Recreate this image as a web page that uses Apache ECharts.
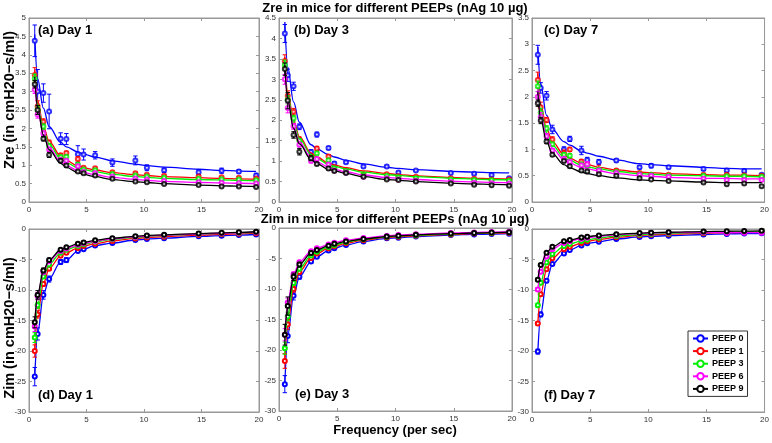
<!DOCTYPE html>
<html><head><meta charset="utf-8">
<script src="https://cdn.jsdelivr.net/npm/echarts@6/dist/echarts.min.js"></script>
<style>html,body{margin:0;padding:0;background:#fff}#c{width:772px;height:443px}</style>
</head><body><div id="c"></div>
<script>
const freq = [0.5, 0.75, 1.25, 1.75, 2.75, 3.25, 4.25, 4.75, 5.75, 7.25, 9.25, 10.25, 11.75, 14.75, 16.75, 18.25, 19.75];
const seriesNames = ['PEEP 0', 'PEEP 1', 'PEEP 3', 'PEEP 6', 'PEEP 9'];
const colors = ['#0000ff', '#ff0000', '#00ee00', '#ff00ff', '#000000'];
const xTicks = [0, 5, 10, 15, 20];

// ---- Zre, Day 1 ----
const zreDay1 = [
  [4.38, 3.00, 2.96, 2.46, 1.72, 1.71, 1.30, 1.29, 1.27, 1.07, 1.13, 0.93, 0.86, 0.81, 0.85, 0.83, 0.72],
  [3.45, 2.60, 2.18, 1.62, 1.27, 1.33, 1.17, 0.93, 0.92, 0.81, 0.78, 0.74, 0.71, 0.69, 0.67, 0.66, 0.64],
  [3.35, 2.50, 2.05, 1.52, 1.22, 1.23, 1.02, 0.88, 0.86, 0.76, 0.72, 0.69, 0.66, 0.63, 0.62, 0.61, 0.59],
  [3.05, 2.38, 1.87, 1.43, 1.15, 1.12, 0.97, 0.82, 0.79, 0.69, 0.64, 0.61, 0.57, 0.54, 0.52, 0.51, 0.50],
  [3.20, 2.50, 1.72, 1.28, 1.12, 0.99, 0.83, 0.78, 0.72, 0.63, 0.56, 0.54, 0.49, 0.46, 0.42, 0.42, 0.41]
];
const zreDay1Err = [
  [0.43, 0.60, 0.25, 0.47, 0.16, 0.15, 0.23, 0.15, 0.10, 0.10, 0.12, 0.08, 0.06, 0.06, 0.07, 0.05, 0.06],
  [0.20, 0.15, 0.08, 0.06, 0.05, 0.05, 0.06, 0.04, 0.03, 0.03, 0.03, 0.03, 0.03, 0.02, 0.02, 0.02, 0.02],
  [0.12, 0.10, 0.07, 0.05, 0.05, 0.04, 0.04, 0.03, 0.03, 0.03, 0.03, 0.02, 0.02, 0.02, 0.02, 0.02, 0.02],
  [0.10, 0.10, 0.06, 0.05, 0.04, 0.04, 0.04, 0.03, 0.03, 0.02, 0.02, 0.02, 0.02, 0.02, 0.02, 0.02, 0.02],
  [0.10, 0.12, 0.06, 0.07, 0.05, 0.04, 0.03, 0.03, 0.03, 0.02, 0.02, 0.02, 0.02, 0.02, 0.02, 0.02, 0.02]
];
const zreDay1Fit = [
  [4.55, 3.35, 2.55, 2.05, 1.62, 1.50, 1.36, 1.30, 1.22, 1.12, 1.03, 0.99, 0.95, 0.89, 0.86, 0.84, 0.83],
  [3.60, 2.75, 2.05, 1.65, 1.25, 1.13, 0.98, 0.93, 0.87, 0.80, 0.74, 0.72, 0.69, 0.66, 0.64, 0.63, 0.62],
  [3.50, 2.65, 1.95, 1.57, 1.18, 1.07, 0.93, 0.88, 0.82, 0.75, 0.69, 0.67, 0.64, 0.61, 0.60, 0.59, 0.58],
  [3.30, 2.50, 1.85, 1.48, 1.10, 0.99, 0.85, 0.80, 0.74, 0.67, 0.61, 0.59, 0.56, 0.53, 0.52, 0.51, 0.50],
  [3.40, 2.55, 1.82, 1.42, 1.05, 0.94, 0.80, 0.75, 0.69, 0.61, 0.55, 0.53, 0.50, 0.46, 0.44, 0.43, 0.42]
];

// ---- Zre, Day 3 ----
const zreDay3 = [
  [4.12, 3.10, 2.83, 1.84, 1.22, 1.65, 1.32, 0.94, 0.97, 0.87, 0.87, 0.72, 0.77, 0.71, 0.69, 0.66, 0.58],
  [3.45, 2.60, 2.21, 1.53, 1.10, 1.31, 1.11, 0.85, 0.78, 0.68, 0.68, 0.63, 0.62, 0.58, 0.57, 0.55, 0.55],
  [3.35, 2.50, 2.05, 1.50, 1.05, 1.19, 1.02, 0.82, 0.75, 0.66, 0.64, 0.60, 0.58, 0.55, 0.54, 0.53, 0.52],
  [3.00, 2.30, 1.85, 1.40, 1.00, 1.05, 0.92, 0.77, 0.72, 0.62, 0.58, 0.55, 0.52, 0.49, 0.47, 0.46, 0.45],
  [3.25, 2.48, 1.64, 1.23, 1.07, 0.93, 0.82, 0.76, 0.71, 0.62, 0.55, 0.54, 0.50, 0.45, 0.42, 0.41, 0.40]
];
const zreDay3Err = [
  [0.22, 0.15, 0.10, 0.07, 0.06, 0.06, 0.04, 0.04, 0.03, 0.03, 0.03, 0.03, 0.02, 0.02, 0.02, 0.03, 0.02],
  [0.15, 0.12, 0.08, 0.06, 0.05, 0.05, 0.04, 0.03, 0.03, 0.02, 0.02, 0.02, 0.02, 0.02, 0.02, 0.02, 0.02],
  [0.12, 0.10, 0.07, 0.05, 0.04, 0.04, 0.03, 0.03, 0.02, 0.02, 0.02, 0.02, 0.02, 0.02, 0.02, 0.02, 0.02],
  [0.12, 0.12, 0.07, 0.05, 0.04, 0.04, 0.03, 0.03, 0.02, 0.02, 0.02, 0.02, 0.02, 0.02, 0.02, 0.02, 0.02],
  [0.15, 0.20, 0.08, 0.08, 0.06, 0.04, 0.04, 0.03, 0.03, 0.02, 0.02, 0.02, 0.02, 0.02, 0.02, 0.02, 0.02]
];
const zreDay3Fit = [
  [4.40, 3.30, 2.45, 1.95, 1.40, 1.30, 1.16, 1.10, 1.02, 0.93, 0.85, 0.82, 0.79, 0.75, 0.73, 0.72, 0.71],
  [3.55, 2.70, 2.00, 1.60, 1.20, 1.10, 0.95, 0.90, 0.84, 0.76, 0.70, 0.67, 0.64, 0.60, 0.58, 0.57, 0.56],
  [3.45, 2.60, 1.95, 1.55, 1.16, 1.06, 0.92, 0.87, 0.81, 0.73, 0.67, 0.65, 0.62, 0.58, 0.56, 0.55, 0.54],
  [3.30, 2.50, 1.85, 1.47, 1.08, 0.98, 0.85, 0.80, 0.74, 0.66, 0.60, 0.58, 0.55, 0.51, 0.49, 0.48, 0.47],
  [3.35, 2.50, 1.80, 1.42, 1.04, 0.94, 0.80, 0.76, 0.70, 0.62, 0.55, 0.53, 0.50, 0.46, 0.44, 0.43, 0.42]
];

// ---- Zre, Day 7 ----
const zreDay7 = [
  [2.80, 2.17, 2.02, 1.38, 1.00, 1.20, 0.98, 0.80, 0.76, 0.79, 0.66, 0.69, 0.66, 0.63, 0.60, 0.59, 0.52],
  [2.32, 1.80, 1.56, 1.19, 0.93, 1.00, 0.77, 0.72, 0.60, 0.60, 0.55, 0.52, 0.52, 0.52, 0.52, 0.51, 0.50],
  [2.20, 1.70, 1.40, 1.10, 0.90, 0.88, 0.72, 0.68, 0.62, 0.57, 0.53, 0.52, 0.50, 0.50, 0.49, 0.49, 0.48],
  [2.00, 1.62, 1.25, 0.98, 0.82, 0.76, 0.70, 0.72, 0.60, 0.55, 0.52, 0.50, 0.48, 0.44, 0.42, 0.42, 0.42],
  [1.88, 1.55, 1.15, 0.90, 0.78, 0.68, 0.60, 0.58, 0.53, 0.50, 0.45, 0.43, 0.40, 0.37, 0.34, 0.35, 0.30]
];
const zreDay7Err = [
  [0.18, 0.10, 0.08, 0.08, 0.05, 0.05, 0.08, 0.05, 0.05, 0.03, 0.03, 0.04, 0.02, 0.03, 0.03, 0.03, 0.02],
  [0.15, 0.10, 0.05, 0.05, 0.06, 0.04, 0.04, 0.03, 0.10, 0.03, 0.02, 0.02, 0.02, 0.02, 0.02, 0.02, 0.02],
  [0.10, 0.08, 0.05, 0.04, 0.04, 0.04, 0.03, 0.03, 0.03, 0.02, 0.02, 0.02, 0.02, 0.02, 0.02, 0.02, 0.02],
  [0.10, 0.08, 0.05, 0.04, 0.04, 0.04, 0.03, 0.05, 0.03, 0.02, 0.02, 0.02, 0.02, 0.02, 0.02, 0.02, 0.02],
  [0.06, 0.06, 0.04, 0.03, 0.03, 0.03, 0.02, 0.02, 0.02, 0.02, 0.02, 0.02, 0.02, 0.02, 0.02, 0.02, 0.02]
];
const zreDay7Fit = [
  [2.95, 2.25, 1.65, 1.38, 1.15, 1.08, 0.97, 0.93, 0.87, 0.80, 0.73, 0.71, 0.69, 0.66, 0.64, 0.63, 0.63],
  [2.45, 1.85, 1.40, 1.15, 0.90, 0.83, 0.74, 0.71, 0.66, 0.61, 0.57, 0.56, 0.54, 0.52, 0.51, 0.51, 0.50],
  [2.30, 1.75, 1.32, 1.08, 0.85, 0.79, 0.70, 0.67, 0.63, 0.58, 0.54, 0.53, 0.51, 0.50, 0.49, 0.49, 0.48],
  [2.15, 1.65, 1.25, 1.02, 0.80, 0.74, 0.66, 0.63, 0.59, 0.54, 0.50, 0.49, 0.47, 0.45, 0.45, 0.44, 0.44],
  [2.10, 1.58, 1.15, 0.92, 0.71, 0.65, 0.57, 0.54, 0.50, 0.46, 0.42, 0.41, 0.40, 0.38, 0.37, 0.37, 0.37]
];

// ---- Zim, Day 1 ----
const zimDay1 = [
  [-24.2, -17.2, -10.8, -8.2, -5.4, -5.1, -3.6, -3.3, -2.7, -2.3, -1.8, -1.65, -1.5, -1.2, -1.1, -1.0, -0.9],
  [-20.0, -14.0, -9.0, -6.5, -4.4, -3.9, -3.1, -2.8, -2.4, -1.95, -1.55, -1.4, -1.25, -1.0, -0.88, -0.78, -0.68],
  [-17.8, -12.5, -7.8, -5.8, -3.9, -3.4, -2.8, -2.5, -2.1, -1.7, -1.35, -1.2, -1.05, -0.85, -0.72, -0.64, -0.55],
  [-16.0, -11.0, -7.0, -5.3, -3.6, -3.2, -2.6, -2.35, -2.0, -1.6, -1.3, -1.15, -1.02, -0.82, -0.7, -0.62, -0.52],
  [-15.3, -10.8, -6.8, -5.1, -3.4, -3.0, -2.4, -2.2, -1.85, -1.5, -1.2, -1.05, -0.95, -0.75, -0.62, -0.55, -0.45]
];
const zimDay1Err = [
  [1.5, 1.0, 0.7, 0.5, 0.4, 0.4, 0.25, 0.2, 0.15, 0.12, 0.1, 0.08, 0.07, 0.05, 0.05, 0.04, 0.04],
  [1.0, 0.6, 0.4, 0.3, 0.2, 0.2, 0.15, 0.1, 0.1, 0.08, 0.06, 0.05, 0.05, 0.04, 0.04, 0.03, 0.03],
  [0.8, 0.5, 0.3, 0.25, 0.15, 0.15, 0.1, 0.1, 0.08, 0.06, 0.05, 0.05, 0.04, 0.03, 0.03, 0.03, 0.03],
  [0.8, 0.6, 0.4, 0.25, 0.15, 0.15, 0.1, 0.1, 0.08, 0.06, 0.05, 0.05, 0.04, 0.03, 0.03, 0.03, 0.03],
  [0.9, 0.7, 0.4, 0.3, 0.2, 0.15, 0.1, 0.1, 0.08, 0.06, 0.05, 0.05, 0.04, 0.03, 0.03, 0.03, 0.03]
];

// ---- Zim, Day 3 ----
const zimDay3 = [
  [-25.6, -17.7, -11.1, -8.0, -5.5, -4.7, -3.7, -3.3, -2.8, -2.2, -1.7, -1.6, -1.4, -1.15, -1.05, -1.0, -0.93],
  [-21.8, -15.8, -10.0, -7.2, -4.9, -4.2, -3.3, -3.0, -2.5, -2.0, -1.55, -1.42, -1.28, -1.05, -0.92, -0.85, -0.78],
  [-19.7, -14.5, -9.0, -6.7, -4.5, -3.9, -3.1, -2.8, -2.3, -1.85, -1.45, -1.32, -1.18, -0.95, -0.83, -0.76, -0.68],
  [-17.5, -12.2, -7.6, -5.6, -3.8, -3.3, -2.7, -2.4, -2.0, -1.65, -1.3, -1.15, -1.02, -0.82, -0.72, -0.66, -0.6],
  [-17.5, -12.8, -8.0, -6.0, -4.1, -3.6, -2.9, -2.6, -2.2, -1.8, -1.4, -1.28, -1.12, -0.92, -0.82, -0.75, -0.68]
];
const zimDay3Err = [
  [1.4, 1.1, 0.7, 0.4, 0.3, 0.25, 0.2, 0.15, 0.12, 0.1, 0.08, 0.07, 0.06, 0.05, 0.05, 0.04, 0.04],
  [1.2, 0.8, 0.5, 0.3, 0.2, 0.2, 0.15, 0.1, 0.1, 0.08, 0.06, 0.05, 0.05, 0.04, 0.04, 0.03, 0.03],
  [1.0, 0.7, 0.4, 0.3, 0.2, 0.15, 0.1, 0.1, 0.08, 0.06, 0.05, 0.05, 0.04, 0.03, 0.03, 0.03, 0.03],
  [1.0, 0.7, 0.4, 0.3, 0.2, 0.15, 0.1, 0.1, 0.08, 0.06, 0.05, 0.05, 0.04, 0.03, 0.03, 0.03, 0.03],
  [1.7, 1.5, 0.6, 0.4, 0.3, 0.2, 0.15, 0.12, 0.1, 0.08, 0.06, 0.05, 0.05, 0.04, 0.04, 0.03, 0.03]
];

// ---- Zim, Day 7 ----
const zimDay7 = [
  [-20.1, -14.0, -8.5, -5.75, -4.0, -3.45, -2.7, -2.35, -2.1, -1.65, -1.3, -1.2, -1.1, -0.9, -0.8, -0.75, -0.7],
  [-15.5, -10.7, -6.6, -4.8, -3.3, -2.9, -2.3, -2.0, -1.7, -1.35, -1.05, -0.95, -0.85, -0.7, -0.6, -0.55, -0.5],
  [-12.5, -8.8, -5.5, -4.1, -2.8, -2.45, -1.95, -1.75, -1.45, -1.15, -0.9, -0.82, -0.72, -0.58, -0.52, -0.48, -0.42],
  [-9.9, -7.0, -4.5, -3.3, -2.3, -2.0, -1.6, -1.45, -1.2, -0.95, -0.75, -0.68, -0.6, -0.55, -0.6, -0.6, -0.6],
  [-8.3, -5.9, -3.9, -2.9, -2.0, -1.8, -1.4, -1.25, -1.05, -0.85, -0.67, -0.6, -0.53, -0.42, -0.37, -0.34, -0.3]
];
const zimDay7Err = [
  [0.4, 0.4, 0.3, 0.2, 0.15, 0.12, 0.1, 0.08, 0.07, 0.06, 0.05, 0.05, 0.04, 0.03, 0.03, 0.03, 0.03],
  [0.3, 0.25, 0.2, 0.15, 0.1, 0.08, 0.06, 0.05, 0.05, 0.04, 0.03, 0.03, 0.03, 0.02, 0.02, 0.02, 0.02],
  [0.3, 0.25, 0.2, 0.15, 0.1, 0.08, 0.06, 0.05, 0.05, 0.04, 0.03, 0.03, 0.03, 0.02, 0.02, 0.02, 0.02],
  [0.3, 0.25, 0.2, 0.15, 0.1, 0.08, 0.06, 0.05, 0.05, 0.04, 0.03, 0.03, 0.03, 0.02, 0.02, 0.02, 0.02],
  [0.3, 0.25, 0.2, 0.15, 0.1, 0.08, 0.06, 0.05, 0.05, 0.04, 0.03, 0.03, 0.03, 0.02, 0.02, 0.02, 0.02]
];

const panels = [
  {data: zreDay1, err: zreDay1Err, fit: zreDay1Fit, ymin: 0, ymax: 5, ystep: 0.5, label: '(a) Day 1'},
  {data: zreDay3, err: zreDay3Err, fit: zreDay3Fit, ymin: 0, ymax: 4.5, ystep: 0.5, label: '(b) Day 3'},
  {data: zreDay7, err: zreDay7Err, fit: zreDay7Fit, ymin: 0, ymax: 3.5, ystep: 0.5, label: '(c) Day 7'},
  {data: zimDay1, err: zimDay1Err, fit: null, ymin: -30, ymax: 0, ystep: 5, label: '(d) Day 1'},
  {data: zimDay3, err: zimDay3Err, fit: null, ymin: -30, ymax: 0, ystep: 5, label: '(e) Day 3'},
  {data: zimDay7, err: zimDay7Err, fit: null, ymin: -30, ymax: 0, ystep: 5, label: '(f) Day 7'}
];

// layout (pixels)
const boxes = [
  {left: 29, top: 18, width: 230, height: 184},
  {left: 279, top: 18, width: 233, height: 184},
  {left: 532, top: 18, width: 233, height: 184},
  {left: 29, top: 229, width: 230, height: 183},
  {left: 279, top: 228, width: 233, height: 183},
  {left: 532, top: 229, width: 233, height: 183}
];
const labelPos = [[38, 30], [294, 30], [544, 30], [38, 395], [295, 394], [544, 395]];

const FONT = '"Liberation Sans", Arial, Helvetica, sans-serif';
const axisGray = '#999';

const grid = [], xAxis = [], yAxis = [], series = [], graphic = [];

function renderErr(params, api) {
  const x = api.value(0), y = api.value(1), e = api.value(2);
  const t = api.coord([x, y + e]), b = api.coord([x, y - e]);
  const w = 2.2;
  const style = {stroke: api.visual('color'), lineWidth: 1};
  return {type: 'group', children: [
    {type: 'line', shape: {x1: t[0], y1: t[1], x2: b[0], y2: b[1]}, style},
    {type: 'line', shape: {x1: t[0] - w, y1: t[1], x2: t[0] + w, y2: t[1]}, style},
    {type: 'line', shape: {x1: b[0] - w, y1: b[1], x2: b[0] + w, y2: b[1]}, style}
  ]};
}

panels.forEach((p, i) => {
  const bx = boxes[i];
  grid.push({left: bx.left, top: bx.top, width: bx.width, height: bx.height, show: true,
    borderColor: axisGray, borderWidth: 1, backgroundColor: '#fff', containLabel: false});
  const common = {gridIndex: i, type: 'value', splitLine: {show: false},
    axisLine: {show: true, onZero: false, lineStyle: {color: axisGray, width: 1}},
    axisTick: {show: true, inside: true, length: 3, lineStyle: {color: axisGray}}};
  xAxis.push(Object.assign({}, common, {position: 'bottom', min: xTicks[0], max: xTicks[xTicks.length - 1],
    interval: xTicks[1] - xTicks[0],
    axisLabel: {fontSize: 8, color: '#333', fontFamily: FONT, margin: 4}}));
  xAxis.push(Object.assign({}, common, {position: 'top', min: xTicks[0], max: xTicks[xTicks.length - 1],
    interval: xTicks[1] - xTicks[0], axisLabel: {show: false}}));
  yAxis.push(Object.assign({}, common, {position: 'left', min: p.ymin, max: p.ymax, interval: p.ystep,
    axisLabel: {fontSize: 8, color: '#333', fontFamily: FONT, margin: 3}}));
  yAxis.push(Object.assign({}, common, {position: 'right', min: p.ymin, max: p.ymax, interval: p.ystep,
    axisLabel: {show: false}}));

  const xi = 2 * i, yi = 2 * i;
  p.data.forEach((vals, s) => {
    const col = colors[s];
    series.push({
      type: 'custom', name: 'err' + i + '_' + s, xAxisIndex: xi, yAxisIndex: yi,
      renderItem: renderErr, itemStyle: {color: col}, silent: true, z: 2 + s,
      encode: {x: 0, y: 1},
      data: freq.map((f, k) => [f, vals[k], p.err[s][k]])
    });
    if (p.fit) {
      series.push({
        type: 'scatter', name: 'pts' + i + '_' + s, xAxisIndex: xi, yAxisIndex: yi,
        symbol: 'emptyCircle', symbolSize: 4, z: 2 + s,
        itemStyle: {color: col, borderColor: col, borderWidth: 1.5},
        data: freq.map((f, k) => [f, vals[k]])
      });
      series.push({
        type: 'line', name: 'fit' + i + '_' + s, xAxisIndex: xi, yAxisIndex: yi,
        showSymbol: false, smooth: 0.35, smoothMonotone: 'x', z: 2 + s,
        lineStyle: {color: col, width: 1.3}, itemStyle: {color: col},
        data: freq.map((f, k) => [f, p.fit[s][k]])
      });
    } else {
      series.push({
        type: 'line', name: seriesNames[s], xAxisIndex: xi, yAxisIndex: yi,
        symbol: 'emptyCircle', symbolSize: 4, showSymbol: true, smooth: 0.3, smoothMonotone: 'x', z: 2 + s,
        lineStyle: {color: col, width: 1.3},
        itemStyle: {color: col, borderColor: col, borderWidth: 1.5},
        data: freq.map((f, k) => [f, vals[k]])
      });
    }
  });
  graphic.push({type: 'text', x: labelPos[i][0], y: labelPos[i][1], z: 100,
    style: {text: p.label, font: 'bold 13px ' + FONT, fill: '#000', verticalAlign: 'middle', align: 'left'}});
});

graphic.push({type: 'text', x: 395, y: 8, z: 100,
  style: {text: 'Zre in mice for different PEEPs (nAg 10 µg)', font: 'bold 13px ' + FONT, fill: '#000', align: 'center', verticalAlign: 'middle'}});
graphic.push({type: 'text', x: 395, y: 219, z: 100,
  style: {text: 'Zim in mice for different PEEPs (nAg 10 µg)', font: 'bold 13px ' + FONT, fill: '#000', align: 'center', verticalAlign: 'middle'}});
graphic.push({type: 'text', x: 395, y: 430, z: 100,
  style: {text: 'Frequency (per sec)', font: 'bold 13px ' + FONT, fill: '#000', align: 'center', verticalAlign: 'middle'}});
graphic.push({type: 'text', x: 10, y: 100, rotation: Math.PI / 2, z: 100,
  style: {text: 'Zre (in cmH20−s/ml)', font: 'bold 14.5px ' + FONT, fill: '#000', align: 'center', verticalAlign: 'middle'}});
graphic.push({type: 'text', x: 10, y: 328, rotation: Math.PI / 2, z: 100,
  style: {text: 'Zim (in cmH20−s/ml)', font: 'bold 14.5px ' + FONT, fill: '#000', align: 'center', verticalAlign: 'middle'}});

const chart = echarts.init(document.getElementById('c'), null, {renderer: 'canvas'});
chart.setOption({
  animation: false,
  backgroundColor: '#fff',
  grid, xAxis, yAxis, series, graphic,
  legend: {
    data: seriesNames, orient: 'vertical', left: 688, top: 331,
    itemWidth: 15, itemHeight: 8, itemGap: 3.6, padding: [3, 4, 3, 4],
    borderColor: '#333', borderWidth: 1, backgroundColor: '#fff', z: 50,
    selectedMode: false,
    textStyle: {fontSize: 9, fontWeight: 'bold', fontFamily: FONT, color: '#000', padding: [0, 0, 0, -1]}
  }
});
</script>
</body></html>
